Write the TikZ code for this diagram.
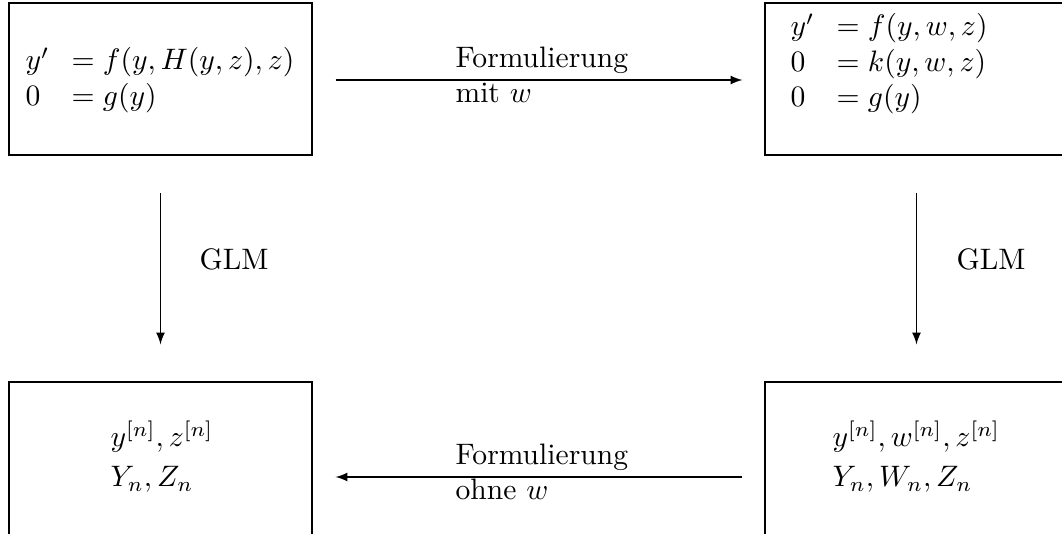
\documentclass[tikz,border=0pt]{standalone}
\usetikzlibrary{calc}
\begin{document}
\begin{tikzpicture}[x=0.33784pt,y=-0.33784pt,
  box/.style={draw, line width=0.4pt, minimum width=102.36pt, minimum height=51.35pt, inner sep=0pt},
  lowbox/.style={box, minimum height=52.7pt},
  txt/.style={inner sep=0pt, anchor=north west},
  lab/.style={inner sep=0pt, anchor=base west},
  arr/.style={-latex, line width=0.4pt}]
\useasboundingbox (0,0) rectangle (1062,533);
\clip (0,0) rectangle (1062,533);
% boxes
\node[box] (tl) at (160.5,79) {};
\node[box] (tr) at (916.5,79) {};
\node[lowbox] (bl) at (160.5,460) {};
\node[lowbox] (br) at (916.5,460) {};
% box contents
\node[txt] (tlt) at (25,44.4) {$\begin{array}{@{}l@{\hspace{7.5pt}}l@{}} y' & = f(y,H(y,z),z)\\ 0 & = g(y)\end{array}$};
\node[txt] (trt) at (790,10.4) {$\begin{array}{@{}l@{\hspace{7.5pt}}l@{}} y' & = f(y,w,z)\\ 0 & = k(y,w,z)\\ 0 & = g(y)\end{array}$};
\node[txt] (blt) at (110,420) {$\begin{array}{@{}l@{}} y^{[n]}, z^{[n]}\\[1.5pt] Y_n, Z_n\end{array}$};
\node[txt] (brt) at (832,420) {$\begin{array}{@{}l@{}} y^{[n]}, w^{[n]}, z^{[n]}\\[1.5pt] Y_n, W_n, Z_n\end{array}$};
% connectors
\draw[arr] ([shift={(23,1)}]tl.east) -- ([shift={(-22,1)}]tr.west);
\draw[arr] ([shift={(-22,17)}]br.west) -- ([shift={(23,17)}]bl.east);
\draw[arr] ([yshift=-12.8pt]tl.south) -- ([yshift=12.5pt]bl.north);
\draw[arr] ([yshift=-12.8pt]tr.south) -- ([yshift=12.5pt]br.north);
% labels
\node[lab] (l1) at (455,67) {Formulierung};
\node[lab] (l2) at (455,102) {mit $w$};
\node[lab] (l3) at (455,464) {Formulierung};
\node[lab] (l4) at (455,499) {ohne $w$};
\node[lab] (g1) at (199,269) {GLM};
\node[lab] (g2) at (956,269) {GLM};
\end{tikzpicture}
\end{document}
